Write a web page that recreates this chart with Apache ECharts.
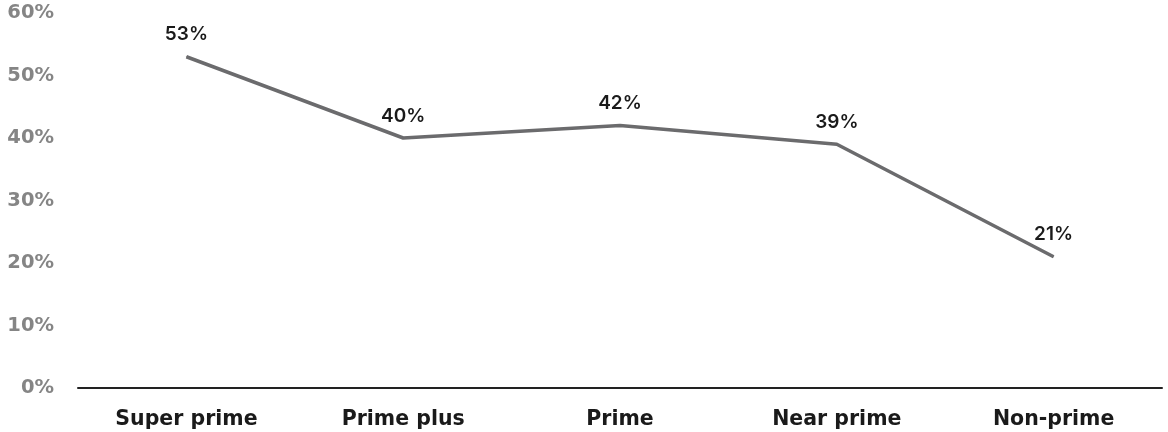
<!DOCTYPE html>
<html><head><meta charset="utf-8">
<script src="https://cdn.jsdelivr.net/npm/echarts@6/dist/echarts.min.js"></script>
<style>html,body{margin:0;padding:0;background:#fff}#c{width:1168px;height:432px}</style>
</head><body><div id="c"></div>
<script>
var categories = ["Super prime", "Prime plus", "Prime", "Near prime", "Non-prime"];
var values = [53, 40, 42, 39, 21];
var yTicks = [0, 10, 20, 30, 40, 50, 60];

var chart = echarts.init(document.getElementById('c'), null, {renderer: 'canvas'});
chart.setOption({
  animation: false,
  grid: {left: 78, right: 6, top: 13, bottom: 44, containLabel: false},
  xAxis: {
    type: 'category', data: categories, boundaryGap: true,
    axisLine: {show: true, lineStyle: {color: '#222', width: 2}},
    axisTick: {show: false},
    axisLabel: {color: '#1a1a1a', fontFamily: 'DejaVu Sans', fontWeight: 'bold', fontSize: 20.5, margin: 21}
  },
  yAxis: {
    type: 'value', min: yTicks[0], max: yTicks[yTicks.length - 1], interval: 10,
    axisLine: {show: false}, axisTick: {show: false}, splitLine: {show: false},
    axisLabel: {color: '#858585', fontFamily: 'DejaVu Sans', fontWeight: 'bold', fontSize: 19.5, align: 'right', margin: 24, formatter: '{value}%'}
  },
  series: [{
    type: 'line', data: values, symbol: 'circle', symbolSize: 1, showSymbol: true,
    itemStyle: {color: '#6b6b6d'},
    lineStyle: {color: '#6b6b6d', width: 3.5},
    label: {show: true, position: 'top', distance: 12, formatter: '{c}%', color: '#1a1a1a', fontFamily: 'Inter', fontWeight: 600, fontSize: 19},
    labelLayout: {hideOverlap: false}
  }]
});
</script></body></html>
